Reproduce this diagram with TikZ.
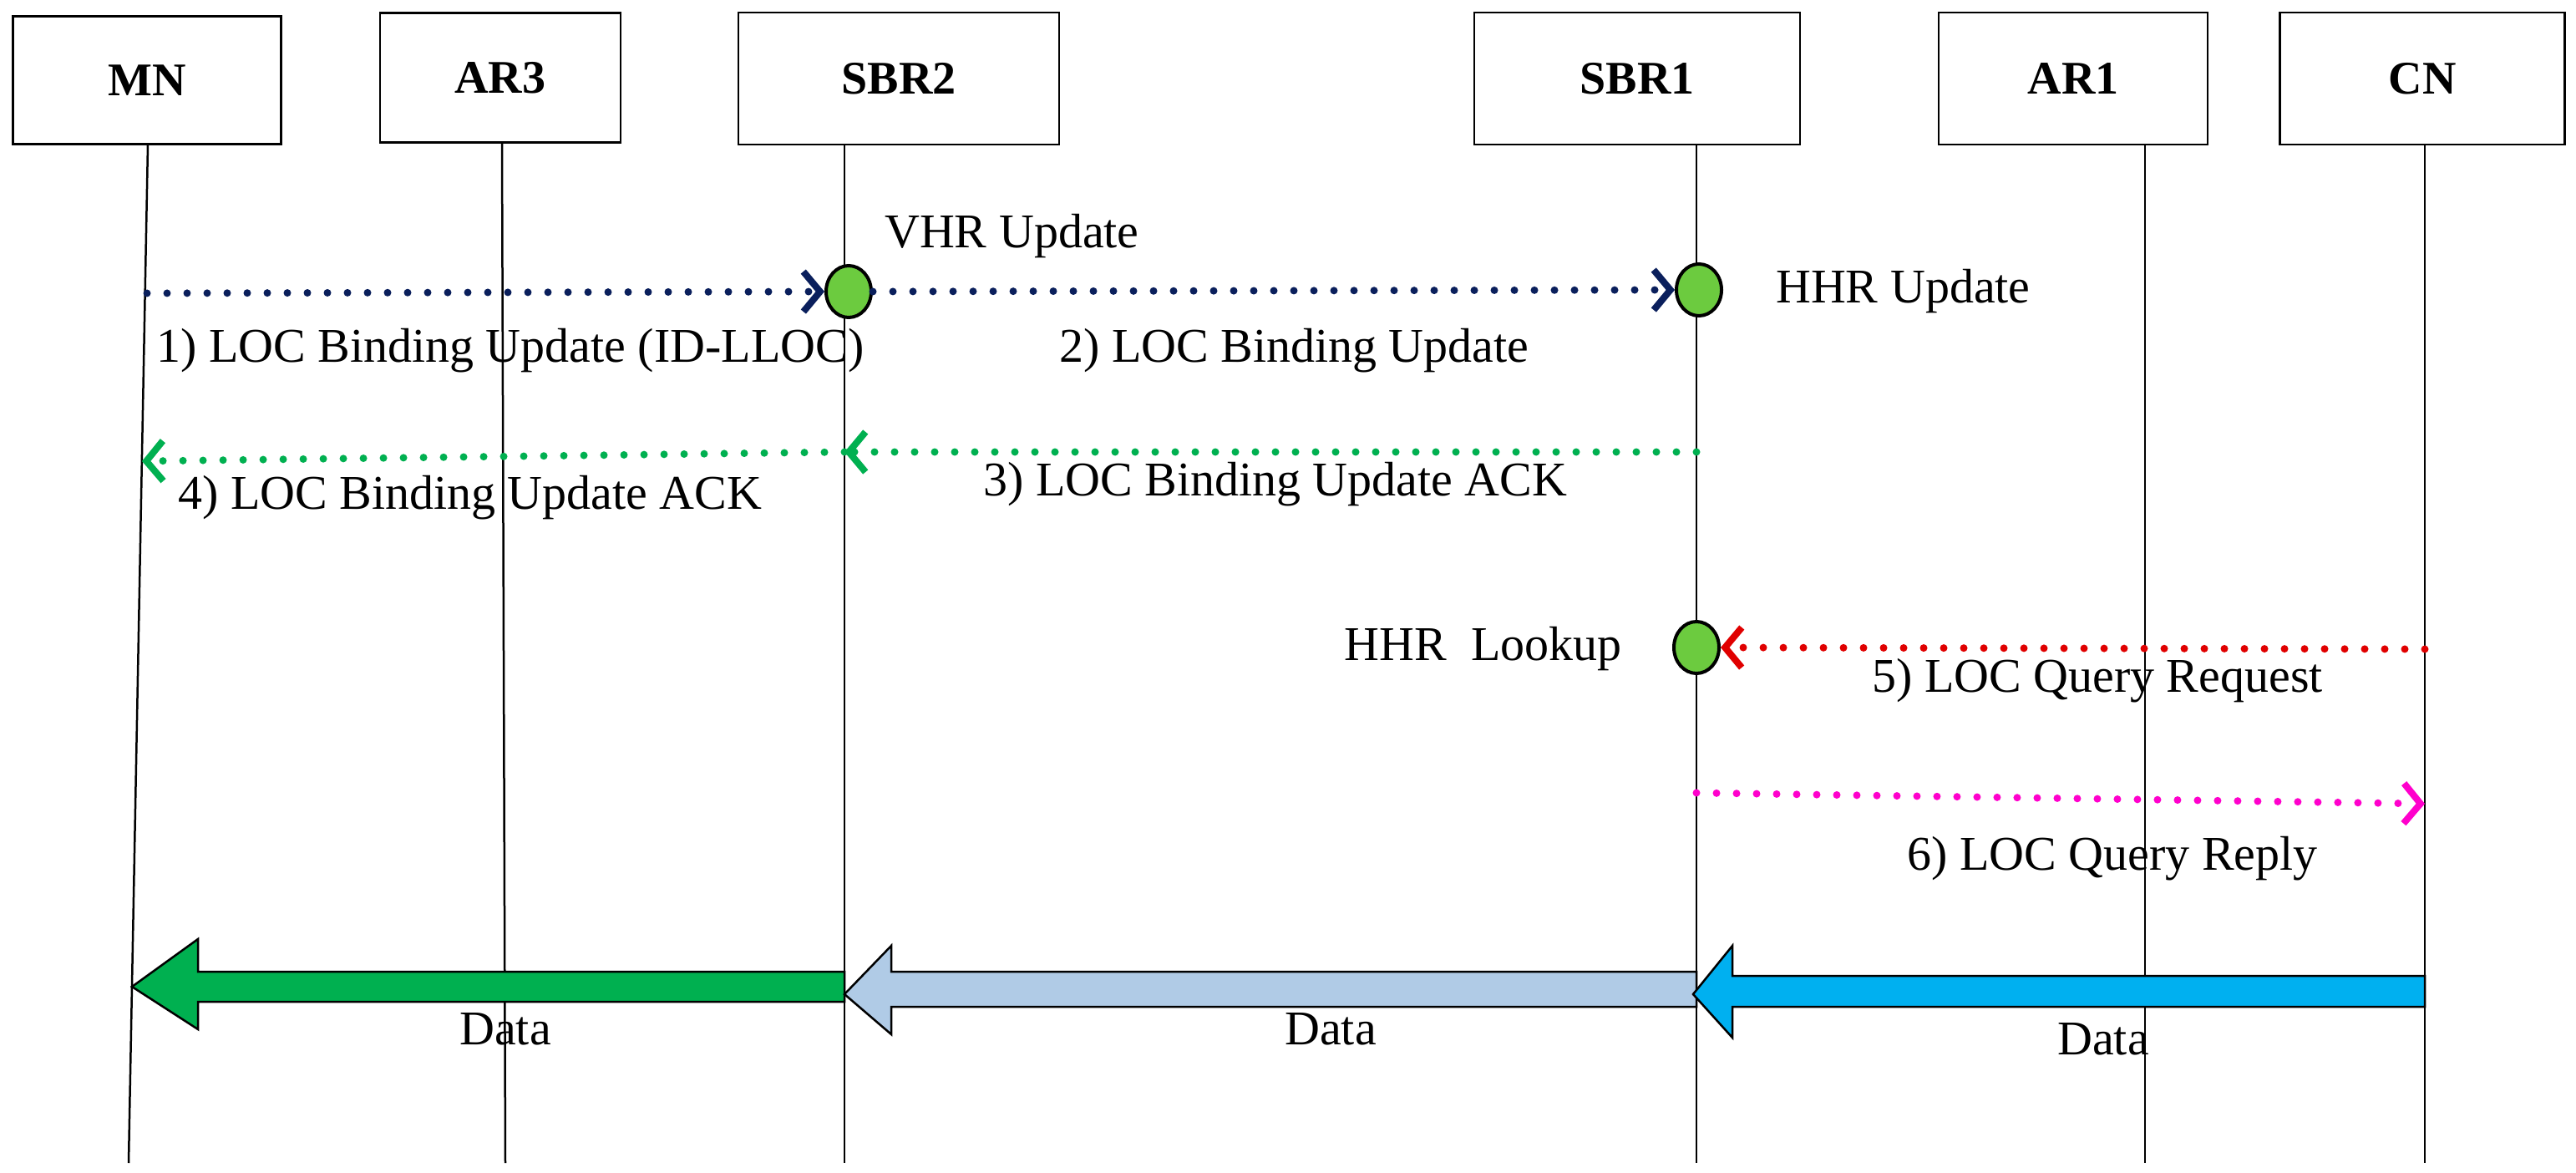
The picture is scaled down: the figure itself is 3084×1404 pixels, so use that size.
\documentclass[tikz,border=0pt]{standalone}
\usepackage{fontspec}
\setmainfont{Liberation Serif}
\usetikzlibrary{arrows.meta,shapes.geometric}
\definecolor{navy}{HTML}{0A1F5C}
\definecolor{gr}{HTML}{00B050}
\definecolor{lb}{HTML}{B0CBE6}
\definecolor{cy}{HTML}{00B0F0}
\definecolor{mg}{HTML}{FF00CC}
\definecolor{rd}{HTML}{E00000}
\definecolor{dot}{HTML}{6CCB3F}
\begin{document}
\begin{tikzpicture}[x=1pt,y=-1pt,
  box/.style={draw,line width=2.5pt,font=\fontsize{56}{60}\selectfont\bfseries,inner sep=0},
  life/.style={line width=2.5pt},
  msg/.style={line width=9pt,line cap=round,dash pattern=on 0pt off 24pt,-{Straight Barb[length=20pt,width=48pt,line width=8pt]}},
  lbl/.style={font=\fontsize{58}{62}\selectfont,inner sep=0},
  ev/.style={ellipse,draw,line width=4pt,fill=dot,minimum width=54pt,minimum height=62pt,inner sep=0},
  data/.style={draw,line width=2.5pt}]
\useasboundingbox (0,0) rectangle (3084,1404);
% boxes
\node[box,minimum width=321pt,minimum height=153pt] (mn) at (176,96) {MN};
\node[box,minimum width=288pt,minimum height=155pt] (ar3) at (599,93) {AR3};
\node[box,minimum width=384pt,minimum height=158pt] (sbr2) at (1076,94) {SBR2};
\node[box,minimum width=390pt,minimum height=158pt] (sbr1) at (1960,94) {SBR1};
\node[box,minimum width=322pt,minimum height=158pt] (ar1) at (2482,94) {AR1};
\node[box,minimum width=341pt,minimum height=158pt] (cn) at (2900,94) {CN};
% lifeline ends
\coordinate (mnb) at (154,1392);
\coordinate (ar3b) at (605,1392);
\coordinate (sbr2b) at (1011,1392);
\coordinate (sbr1b) at (2031,1392);
\coordinate (ar1b) at (2568,1392);
\coordinate (cnb) at (2903,1392);
\draw[life] (177,173) -- (mnb);
\draw[life] (601,170) -- (ar3b);
\draw[life] (1011,173) -- (sbr2b);
\draw[life] (2031,173) -- (sbr1b);
\draw[life] (2568,173) -- (ar1b);
\draw[life] (2903,173) -- (cnb);
% events
\node[ev] (e1) at (1016,349) {};
\node[ev] (e2) at (2034,347) {};
\node[ev] (e3) at (2031,775) {};
\node[lbl,anchor=west] (t1) at (1059,283) {VHR Update};
\node[lbl,anchor=west] (t2) at (2126,349) {HHR Update};
\node[lbl,anchor=east] (t3) at (1942,777) {HHR\ \ Lookup};
% messages
\coordinate (m1s) at (176,351);
\coordinate (m3s) at (2031,541);
\coordinate (m3e) at (1011,541);
\coordinate (m4e) at (170,552);
\coordinate (m5s) at (2903,777);
\coordinate (m6s) at (2031,949);
\coordinate (m6e) at (2903,962);
\draw[msg,navy] (m1s) -- (e1.west);
\draw[msg,navy] (e1.east) -- (e2.west);
\draw[msg,gr] (m3s) -- (m3e);
\draw[msg,gr] (m3e) -- (m4e);
\draw[msg,rd] (m5s) -- (e3.east);
\draw[msg,mg] (m6s) -- (m6e);
\node[lbl,anchor=west] at (187,420) {1) LOC Binding Update (ID-LLOC)};
\node[lbl,anchor=west] at (1268,420) {2) LOC Binding Update};
\node[lbl,anchor=west] at (1177,580) {3) LOC Binding Update ACK};
\node[lbl,anchor=west] at (213,596) {4) LOC Binding Update ACK};
\node[lbl] at (2511,815) {5) LOC Query Request};
\node[lbl] at (2529,1028) {6) LOC Query Reply};
% data arrows
\draw[data,fill=gr] (1011,1163) -- (237,1163) -- (237,1124) -- (158,1181) -- (237,1232) -- (237,1199) -- (1011,1199) -- cycle;
\draw[data,fill=lb] (2031,1163) -- (1067,1163) -- (1067,1132) -- (1011,1190) -- (1067,1238) -- (1067,1205) -- (2031,1205) -- cycle;
\draw[data,fill=cy] (2903,1168) -- (2074,1168) -- (2074,1132) -- (2027,1190) -- (2074,1242) -- (2074,1205) -- (2903,1205) -- cycle;
\node[lbl] at (605,1232) {Data};
\node[lbl] at (1593,1232) {Data};
\node[lbl] at (2518,1244) {Data};
\end{tikzpicture}
\end{document}
